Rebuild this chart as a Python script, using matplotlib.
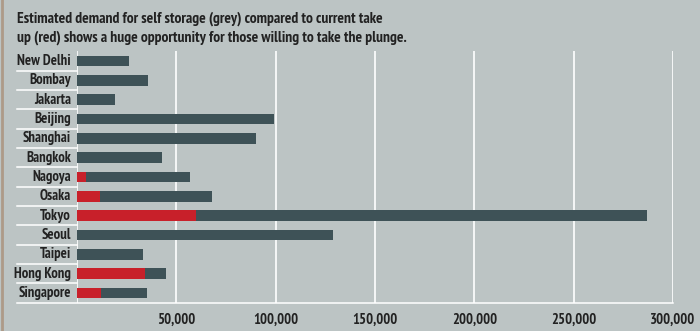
import matplotlib
matplotlib.use("Agg")
import matplotlib.pyplot as plt
from matplotlib.lines import Line2D
from matplotlib.ticker import FuncFormatter

cities = ["New Delhi", "Bombay", "Jakarta", "Beijing", "Shanghai", "Bangkok",
          "Nagoya", "Osaka", "Tokyo", "Seoul", "Taipei", "Hong Kong", "Singapore"]
demand = [26000, 35500, 19000, 99000, 90000, 43000,
          57000, 68000, 287000, 129000, 33000, 45000, 35000]
take_up = [0, 0, 0, 0, 0, 0,
           4500, 11500, 60000, 0, 0, 34000, 12000]
x_ticks = [50000, 100000, 150000, 200000, 250000, 300000]

BG = "#bcc4c4"
GREY = "#3e5257"
RED = "#c8202a"
TEXT = "#222222"

fam = ["PT Sans Narrow", "Roboto Condensed", "DejaVu Sans"]

W, H = 700, 331
fig = plt.figure(figsize=(W / 100, H / 100), dpi=100, facecolor=BG)

x0, x1 = 77, 673
y_top, y_bot = 51.3, 302.7
ax = fig.add_axes([x0 / W, 1 - y_bot / H, (x1 - x0) / W, (y_bot - y_top) / H])
ax.set_facecolor(BG)

ypos = list(range(len(cities)))
ax.barh(ypos, demand, height=0.56, color=GREY, zorder=2)
ax.barh(ypos, take_up, height=0.56, color=RED, zorder=3)

ax.set_xlim(0, 300000)
ax.set_ylim(len(cities) - 0.5, -0.5)
for s in ax.spines.values():
    s.set_visible(False)

# vertical gridlines, including the baseline at zero
for v in [0] + x_ticks:
    ax.axvline(v, color="white", lw=1.2, zorder=1)

ax.set_xticks(x_ticks)
ax.xaxis.set_major_formatter(FuncFormatter(lambda v, p: f"{int(v):,}"))
ax.tick_params(axis="x", length=0, pad=7, labelsize=10.5, colors=TEXT)
for t in ax.get_xticklabels():
    t.set_fontweight("bold")
    t.set_family(fam)
ax.set_yticks([])

# city labels and the separator rules in the label column
for i, c in enumerate(cities):
    ax.text(-3000, i, c, ha="right", va="center", fontsize=10.5,
            fontweight="bold", color=TEXT, family=fam)
row_h = (y_bot - y_top) / len(cities)
for i in range(1, len(cities) + 1):
    yy = 1 - (y_top + i * row_h) / H
    x_end = x1 if i == len(cities) else x0
    fig.add_artist(Line2D([17 / W, x_end / W], [yy, yy], color="white",
                          lw=1.1, transform=fig.transFigure))

# left border stripe
fig.add_artist(Line2D([1.5 / W, 1.5 / W], [0, 1], color="#ad9a88", lw=2,
                      transform=fig.transFigure))

fig.text(17 / W, 1 - 19 / H,
         "Estimated demand for self storage (grey) compared to current take",
         ha="left", va="center", fontsize=11.2, fontweight="bold",
         color=TEXT, family=fam)
fig.text(17 / W, 1 - 38 / H,
         "up (red) shows a huge opportunity for those willing to take the plunge.",
         ha="left", va="center", fontsize=11.2, fontweight="bold",
         color=TEXT, family=fam)

fig.savefig("out.png", dpi=100, facecolor=BG)
